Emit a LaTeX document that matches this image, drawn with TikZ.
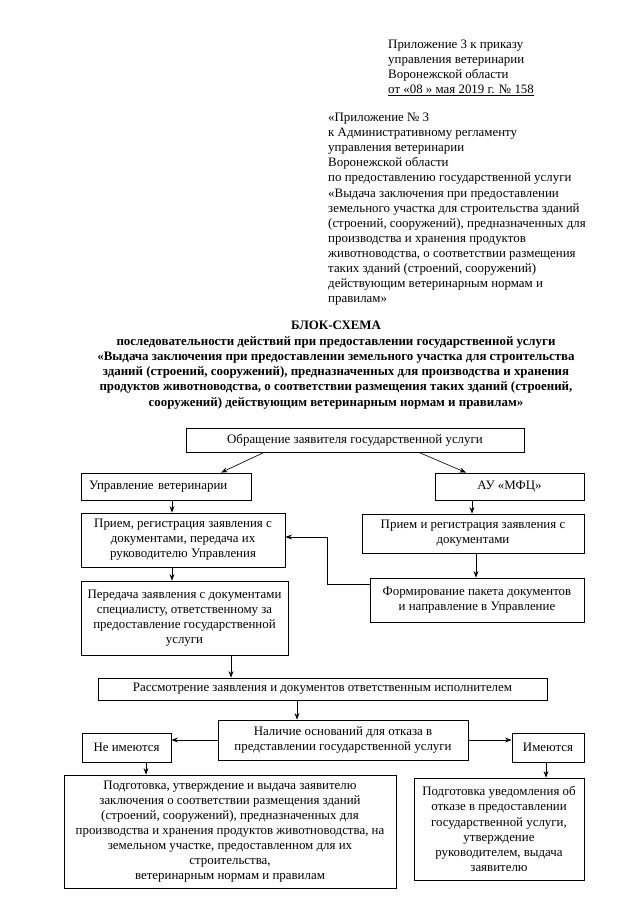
\documentclass[tikz,border=0pt]{standalone}
\usepackage{fontspec}
\setmainfont{Liberation Serif}
\usetikzlibrary{arrows.meta,positioning}
\newlength\pix
\setlength\pix{0.93pt}

\begin{document}
\begin{tikzpicture}[
  x=0.93pt, y=-0.93pt,
  every node/.style={font=\fontsize{12}{14}\selectfont},
  blk/.style={draw,line width=0.8pt,align=center,inner sep=2pt},
  hdr/.style={anchor=north west,align=left,inner sep=0pt},
  arr/.style={line width=0.6pt,-{Stealth[length=6pt,width=4.5pt]}},
]
  \useasboundingbox (0,0) rectangle (640,905);

  % header
  \node[hdr] (pr1) at (388,40) {Приложение 3 к приказу\\ управления ветеринарии\\ Воронежской области\\ \underline{от «08 » мая 2019 г. № 158}};
  \node[hdr] (pr2) at (328,113) {«Приложение № 3\\ к Административному регламенту\\ управления ветеринарии\\ Воронежской области\\ по предоставлению государственной услуги\\ «Выдача заключения при предоставлении\\ земельного участка для строительства зданий\\ (строений, сооружений), предназначенных для\\ производства и хранения продуктов\\ животноводства, о соответствии размещения\\ таких зданий (строений, сооружений)\\ действующим ветеринарным нормам и\\ правилам»};
  \node[anchor=north,align=center,inner sep=0pt,font=\fontsize{12}{14.2}\selectfont\bfseries] (ttl) at (336,321) {БЛОК-СХЕМА\\ последовательности действий при предоставлении государственной услуги\\ «Выдача заключения при предоставлении земельного участка для строительства\\ зданий (строений, сооружений), предназначенных для производства и хранения\\ продуктов животноводства, о соответствии размещения таких зданий (строений,\\ сооружений) действующим ветеринарным нормам и правилам»};

  % boxes
  \node[blk,minimum width=338\pix,minimum height=24\pix] (obr) at (355,440) {Обращение заявителя государственной услуги};
  \node[blk,minimum height=27\pix,text width=154\pix,inner xsep=8\pix,align=left] (uv) at (166,486.5) {Управление ветеринарии};
  \node[blk,minimum width=149\pix,minimum height=27\pix] (mfc) at (509.5,486.5) {АУ «МФЦ»};
  \node[blk,minimum width=204\pix,minimum height=54\pix] (priemL) at (183,540) {Прием, регистрация заявления с\\ документами, передача их\\ руководителю Управления};
  \node[blk,minimum width=222\pix,minimum height=39\pix] (priemR) at (473,533.5) {Прием и регистрация заявления с\\ документами};
  \node[blk,minimum width=214\pix,minimum height=44\pix] (form) at (477,600) {Формирование пакета документов\\ и направление в Управление};
  \node[blk,minimum width=207\pix,minimum height=74\pix] (pered) at (184.5,618) {Передача заявления с документами\\ специалисту, ответственному за\\ предоставление государственной\\ услуги};
  \node[blk,minimum width=449\pix,minimum height=22\pix] (rasm) at (322.5,689) {Рассмотрение заявления и документов ответственным исполнителем};
  \node[blk,minimum width=250\pix,minimum height=40\pix] (nal) at (343,740) {Наличие оснований для отказа в\\ представлении государственной услуги};
  \node[blk,minimum width=89\pix,minimum height=29\pix] (neim) at (126.5,747.5) {Не имеются};
  \node[blk,minimum width=72\pix,minimum height=29\pix] (im) at (548,747.5) {Имеются};
  \node[blk,minimum width=332\pix,minimum height=113\pix] (podg) at (230,831.5) {Подготовка, утверждение и выдача заявителю\\ заключения о соответствии размещения зданий\\ (строений, сооружений), предназначенных для\\ производства и хранения продуктов животноводства, на\\ земельном участке, предоставленном для их\\ строительства,\\ ветеринарным нормам и правилам};
  \node[blk,minimum width=170\pix,minimum height=102\pix] (uved) at (499,829) {Подготовка уведомления об\\ отказе в предоставлении\\ государственной услуги,\\ утверждение\\ руководителем, выдача\\ заявителю};

  % connectors
  \path (172,0) coordinate (v1) (472,0) coordinate (v2) (476,0) coordinate (v3)
        (231,0) coordinate (v4) (297,0) coordinate (v5) (146,0) coordinate (v6)
        (546,0) coordinate (v7) (327,537) coordinate (fb);
  \draw[arr] ([xshift=-91\pix]obr.south) -- ([xshift=55\pix]uv.north);
  \draw[arr] ([xshift=64\pix]obr.south) -- ([xshift=-43.5\pix]mfc.north);
  \draw[arr] (uv.south -| v1) -- (priemL.north -| v1);
  \draw[arr] (priemL.south -| v1) -- (pered.north -| v1);
  \draw[arr] (mfc.south -| v2) -- (priemR.north -| v2);
  \draw[arr] (priemR.south -| v3) -- (form.north -| v3);
  \draw[arr] ([yshift=-7\pix]form.north west) -| (fb) -- (priemL.east |- fb);
  \draw[arr] (pered.south -| v4) -- (rasm.north -| v4);
  \draw[arr] (rasm.south -| v5) -- (nal.north -| v5);
  \draw[arr] (nal.west) -- (neim.east |- nal.west);
  \draw[arr] (nal.east) -- (im.west |- nal.east);
  \draw[arr] (neim.south -| v6) -- (podg.north -| v6);
  \draw[arr] (im.south -| v7) -- (uved.north -| v7);
\end{tikzpicture}
\end{document}
